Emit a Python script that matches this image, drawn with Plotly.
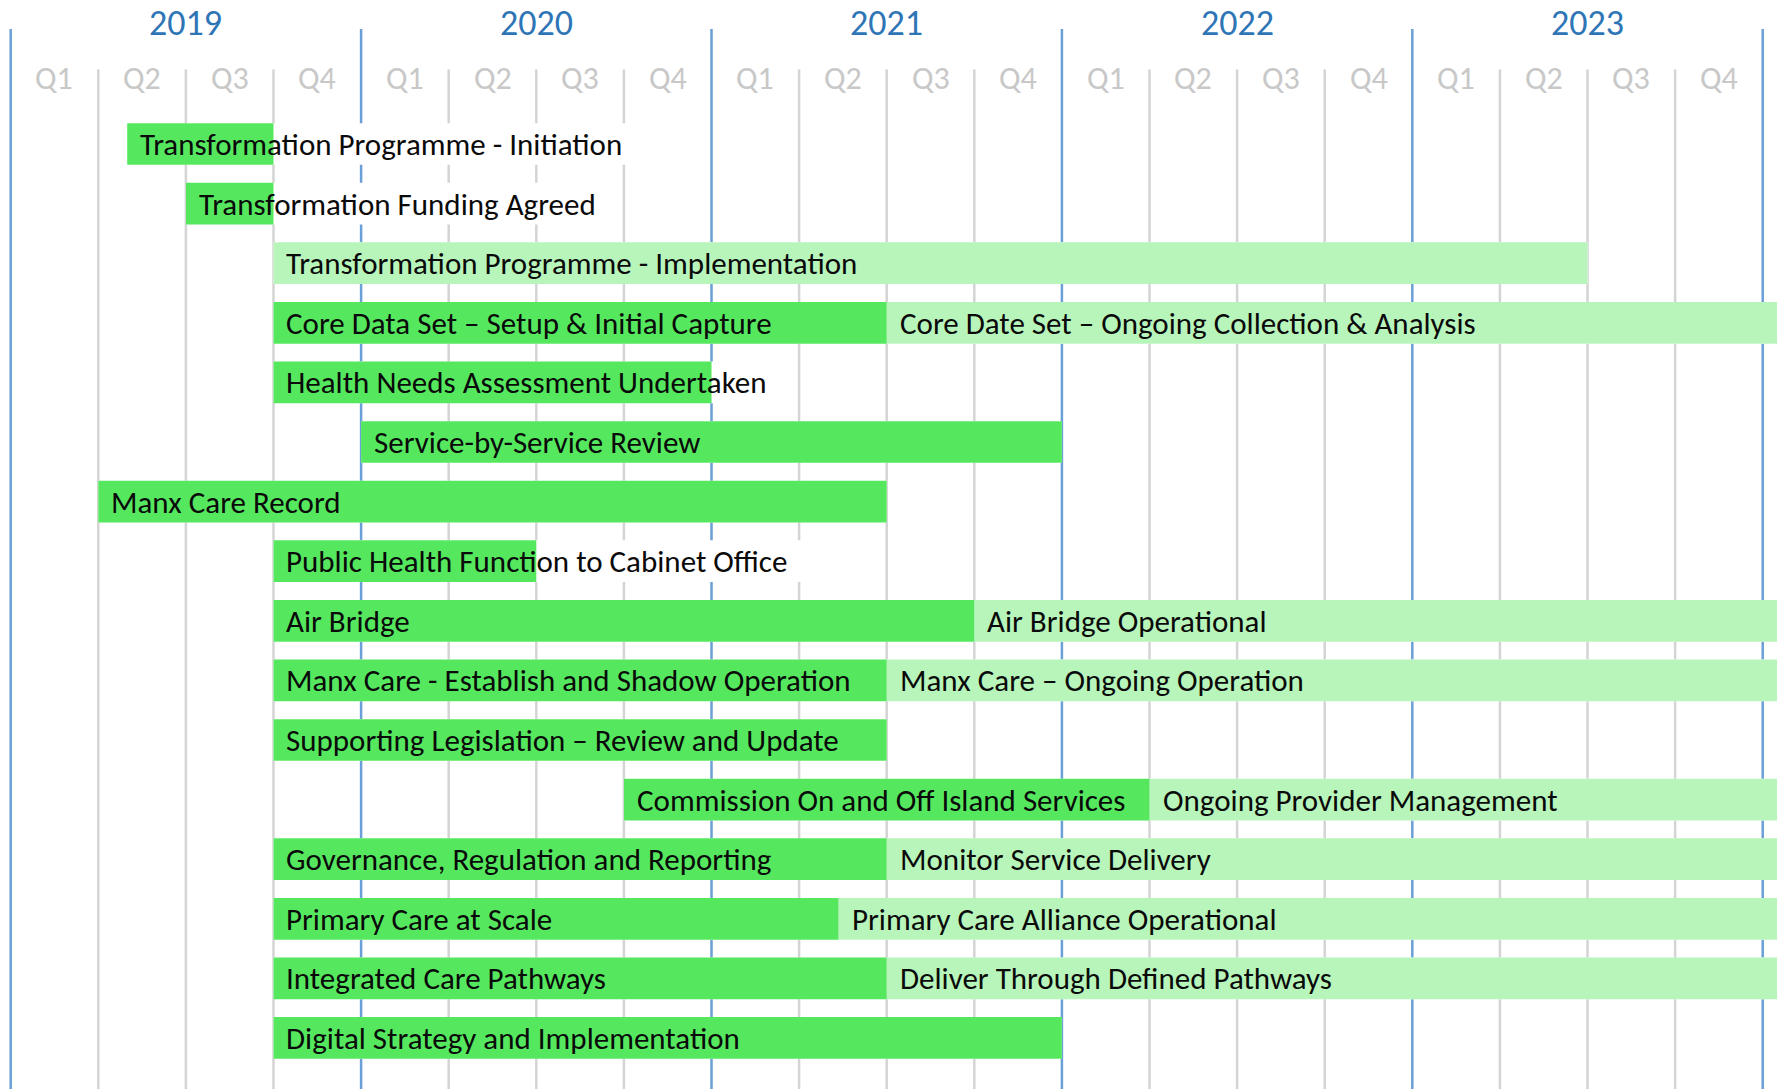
import plotly.graph_objects as go

# ---------------- data ----------------
years = ["2019", "2020", "2021", "2022", "2023"]
quarters = ["Q1", "Q2", "Q3", "Q4"]

row_names = [
    "Transformation Programme - Initiation",
    "Transformation Funding Agreed",
    "Transformation Programme - Implementation",
    "Core Data Set – Setup & Initial Capture",
    "Health Needs Assessment Undertaken",
    "Service-by-Service Review",
    "Manx Care Record",
    "Public Health Function to Cabinet Office",
    "Air Bridge",
    "Manx Care - Establish and Shadow Operation",
    "Supporting Legislation – Review and Update",
    "Commission On and Off Island Services",
    "Governance, Regulation and Reporting",
    "Primary Care at Scale",
    "Integrated Care Pathways",
    "Digital Strategy and Implementation",
]

# time measured in quarters from start of 2019
dark_rows = [0, 1, 3, 4, 5, 6, 7, 8, 9, 10, 11, 12, 13, 14, 15]
dark_start = [1.33, 2, 3, 3, 4, 1, 3, 3, 3, 3, 7, 3, 3, 3, 3]
dark_end = [3, 3, 10, 8, 12, 10, 6, 11, 10, 10, 13, 10, 9.45, 10, 12]
dark_label = [row_names[r] for r in dark_rows]

light_rows = [2, 3, 8, 9, 11, 12, 13, 14]
light_start = [3, 10, 11, 10, 13, 10, 9.45, 10]
light_end = [18, 20.6, 20.6, 20.6, 20.6, 20.6, 20.6, 20.6]
light_label = [
    "Transformation Programme - Implementation",
    "Core Date Set – Ongoing Collection & Analysis",
    "Air Bridge Operational",
    "Manx Care – Ongoing Operation",
    "Ongoing Provider Management",
    "Monitor Service Delivery",
    "Primary Care Alliance Operational",
    "Deliver Through Defined Pathways",
]

# ---------------- style ----------------
DARK = "#55E85F"
LIGHT = "#B8F5BB"
GRID_GRAY = "#D4D4D4"
GRID_BLUE = "#6A9FD8"
YEAR_COL = "#2E75B6"
Q_COL = "#C8C8C8"
FONT = "Carlito, Lato, sans-serif"
TXT_SIZE = 31
CHAR_Q = 0.152  # approx text advance per character, in quarters
PAD_Q = 0.15

fig = go.Figure()

# white masks behind label text (hide grid lines where text overflows a bar)
mask_rows, mask_start, mask_len = [], [], []
for r, s, e, lab in list(zip(dark_rows, dark_start, dark_end, dark_label)) + \
        list(zip(light_rows, light_start, light_end, light_label)):
    text_end = s + PAD_Q + len(lab) * CHAR_Q + 0.1
    mask_rows.append(row_names[r])
    mask_start.append(s)
    mask_len.append(max(e, text_end) - s)

fig.add_trace(go.Bar(
    orientation="h", y=mask_rows, base=mask_start, x=mask_len, width=0.7,
    marker=dict(color="white", line=dict(width=0)), hoverinfo="skip",
    showlegend=False))

fig.add_trace(go.Bar(
    orientation="h", y=[row_names[r] for r in light_rows], base=light_start,
    x=[e - s for s, e in zip(light_start, light_end)], width=0.7,
    marker=dict(color=LIGHT, line=dict(width=0)), showlegend=False))

fig.add_trace(go.Bar(
    orientation="h", y=[row_names[r] for r in dark_rows], base=dark_start,
    x=[e - s for s, e in zip(dark_start, dark_end)], width=0.7,
    marker=dict(color=DARK, line=dict(width=0)), showlegend=False))

# bar labels
annotations = []
for r, s, lab in list(zip(dark_rows, dark_start, dark_label)) + \
        list(zip(light_rows, light_start, light_label)):
    annotations.append(dict(
        x=s, y=row_names[r], xref="x", yref="y", text=lab, showarrow=False,
        xanchor="left", yanchor="middle", xshift=11,
        font=dict(family=FONT, size=TXT_SIZE, color="#0A0A0A")))

# header: years and quarters
for i, yr in enumerate(years):
    annotations.append(dict(
        x=i * 4 + 2, y=-2.03, xref="x", yref="y", text=yr, showarrow=False,
        xanchor="center", yanchor="middle",
        font=dict(family=FONT, size=36, color=YEAR_COL)))
    for j, q in enumerate(quarters):
        annotations.append(dict(
            x=i * 4 + j + 0.5, y=-1.1, xref="x", yref="y", text=q,
            showarrow=False, xanchor="center", yanchor="middle",
            font=dict(family=FONT, size=32, color=Q_COL)))

# vertical grid lines
shapes = []
n_q = len(years) * 4
for k in range(n_q + 1):
    is_year = (k % 4 == 0)
    shapes.append(dict(
        type="line", xref="x", yref="y", x0=k, x1=k,
        y0=-1.93 if is_year else -1.25, y1=16.5, layer="below",
        line=dict(color=GRID_BLUE if is_year else GRID_GRAY, width=2.5)))

fig.update_layout(
    width=1777, height=1089,
    margin=dict(l=0, r=0, t=0, b=0),
    paper_bgcolor="white", plot_bgcolor="white",
    barmode="overlay",
    annotations=annotations, shapes=shapes,
    xaxis=dict(range=[-0.122, 20.163], visible=False, showgrid=False,
               zeroline=False),
    yaxis=dict(range=[15.856, -2.416], visible=False, showgrid=False,
               zeroline=False, type="category",
               categoryorder="array", categoryarray=row_names),
    showlegend=False,
)

fig.write_html(
    "out.html",
    config={"displayModeBar": False},
    post_script="document.body.style.margin='0';"
                "document.body.style.overflow='hidden';",
)
